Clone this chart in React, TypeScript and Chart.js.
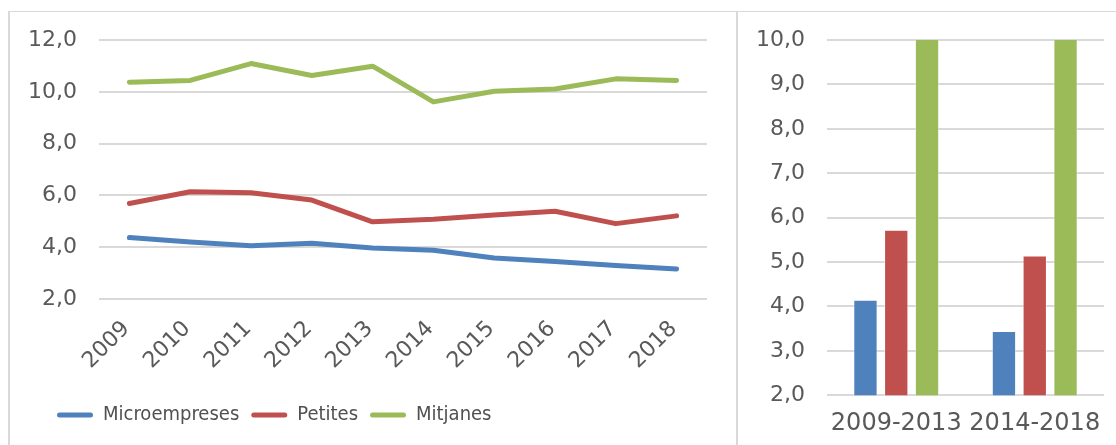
import React, { useEffect, useRef } from 'react';
import { Chart, registerables } from 'chart.js';

Chart.register(...registerables);

const years = ['2009', '2010', '2011', '2012', '2013', '2014', '2015', '2016', '2017', '2018'];
const microempreses = [4.37, 4.2, 4.06, 4.15, 3.97, 3.88, 3.58, 3.45, 3.29, 3.16];
const petites = [5.69, 6.14, 6.1, 5.82, 4.98, 5.08, 5.24, 5.39, 4.91, 5.21];
const mitjanes = [10.37, 10.44, 11.09, 10.63, 10.99, 9.61, 10.02, 10.11, 10.5, 10.44];

const periods = ['2009-2013', '2014-2018'];
const microAvg = [4.15, 3.45];
const petitesAvg = [5.73, 5.15];
const mitjanesAvg = [10.7, 10.23];

const seriesNames = ['Microempreses', 'Petites', 'Mitjanes'];

const BLUE = '#4f81bd';
const RED = '#c0504d';
const GREEN = '#9bbb59';
const TEXT = '#595959';
const GRID = '#d9d9d9';
const FONT = "'DejaVu Sans', sans-serif";
const LEGEND_FONT = "'DejaVu Sans Condensed', Roboto, sans-serif";

const fmt = (v: number | string) => Number(v).toFixed(1).replace('.', ',');

const legendShift = {
  id: 'legendShift',
  afterLayout(chart: any) {
    if (chart.legend) {
      chart.legend.left += 25;
    }
  },
};

function LineChart() {
  const ref = useRef<HTMLCanvasElement>(null);
  useEffect(() => {
    const colors = [BLUE, RED, GREEN];
    const series = [microempreses, petites, mitjanes];
    const chart = new Chart(ref.current!, {
      type: 'line',
      plugins: [legendShift],
      data: {
        labels: years,
        datasets: series.map((d, i) => ({
          label: seriesNames[i],
          data: d,
          borderColor: colors[i],
          backgroundColor: colors[i],
          borderWidth: 5,
          pointRadius: 0,
          tension: 0,
          borderCapStyle: 'round' as const,
          borderJoinStyle: 'round' as const,
        })),
      },
      options: {
        animation: false,
        responsive: false,
        devicePixelRatio: 1,
        layout: { padding: { left: 10, right: 29, top: 28, bottom: 10 } },
        plugins: {
          tooltip: { enabled: false },
          legend: {
            position: 'bottom',
            align: 'start',
            labels: {
              boxWidth: 36,
              boxHeight: 5,
              padding: 12,
              color: '#505050',
              font: { family: LEGEND_FONT, size: 20 },
              useBorderRadius: true,
              borderRadius: 2.5,
              generateLabels: (c: any) =>
                c.data.datasets.map((ds: any, i: number) => ({
                  text: ds.label,
                  fillStyle: ds.borderColor,
                  strokeStyle: ds.borderColor,
                  lineWidth: 0,
                  borderRadius: 2.5,
                  hidden: false,
                  datasetIndex: i,
                  fontColor: '#505050',
                })),
            },
          },
        },
        scales: {
          x: {
            offset: true,
            grid: { display: false, drawTicks: false, offset: true },
            border: { display: false },
            ticks: {
              color: TEXT,
              font: { family: FONT, size: 22 },
              maxRotation: 45,
              minRotation: 45,
              autoSkip: false,
              padding: 17,
              labelOffset: -3,
            },
            afterFit: (s: any) => {
              s.height = 94;
              s.paddingLeft = 0;
              s.paddingRight = 0;
            },
          },
          y: {
            min: 2,
            max: 12,
            grid: { color: GRID, lineWidth: 2, drawTicks: false },
            border: { display: false },
            ticks: {
              stepSize: 2,
              color: TEXT,
              font: { family: FONT, size: 22 },
              padding: 22,
              callback: (v: any) => fmt(v),
            },
            afterFit: (s: any) => {
              s.width = 79;
              s.paddingTop = 0;
              s.paddingBottom = 0;
            },
          },
        },
      },
    });
    return () => chart.destroy();
  }, []);
  return <canvas ref={ref} width={726} height={433} style={{ display: 'block' }} />;
}

function BarChart() {
  const ref = useRef<HTMLCanvasElement>(null);
  useEffect(() => {
    const colors = [BLUE, RED, GREEN];
    const series = [microAvg, petitesAvg, mitjanesAvg];
    const chart = new Chart(ref.current!, {
      type: 'bar',
      data: {
        labels: periods,
        datasets: series.map((d, i) => ({
          label: seriesNames[i],
          data: d,
          backgroundColor: colors[i],
          borderColor: 'rgba(255,255,255,0.5)',
          borderWidth: 1,
          barPercentage: 0.79,
          categoryPercentage: 0.667,
        })),
      },
      options: {
        animation: false,
        responsive: false,
        devicePixelRatio: 1,
        layout: { padding: { left: 0, right: 12, top: 28, bottom: 0 } },
        plugins: { tooltip: { enabled: false }, legend: { display: false } },
        scales: {
          x: {
            grid: { display: false, drawTicks: false },
            border: { display: false },
            ticks: {
              color: TEXT,
              font: { family: FONT, size: 24 },
              maxRotation: 0,
              minRotation: 0,
              padding: 14,
            },
            afterFit: (s: any) => {
              s.height = 49.7;
              s.paddingLeft = 0;
              s.paddingRight = 0;
            },
          },
          y: {
            min: 2,
            max: 10,
            grid: { color: GRID, lineWidth: 2, drawTicks: false },
            border: { display: false },
            ticks: {
              stepSize: 1,
              color: TEXT,
              font: { family: FONT, size: 22 },
              padding: 22,
              callback: (v: any) => fmt(v),
            },
            afterFit: (s: any) => {
              s.width = 89;
              s.paddingTop = 0;
              s.paddingBottom = 0;
            },
          },
        },
      },
    });
    return () => chart.destroy();
  }, []);
  return <canvas ref={ref} width={378} height={433} style={{ display: 'block' }} />;
}

export default function App() {
  return (
    <div
      style={{
        position: 'fixed',
        left: 0,
        top: 0,
        width: 1116,
        height: 445,
        background: '#fff',
        overflow: 'hidden',
      }}
    >
      <div style={{ position: 'absolute', left: 8, top: 11, width: 1108, height: 1, background: GRID }} />
      <div style={{ position: 'absolute', left: 8, top: 11, width: 2, height: 434, background: GRID }} />
      <div style={{ position: 'absolute', left: 736, top: 11, width: 2, height: 434, background: GRID }} />
      <div style={{ position: 'absolute', left: 10, top: 12 }}>
        <LineChart />
      </div>
      <div style={{ position: 'absolute', left: 738, top: 12 }}>
        <BarChart />
      </div>
    </div>
  );
}
